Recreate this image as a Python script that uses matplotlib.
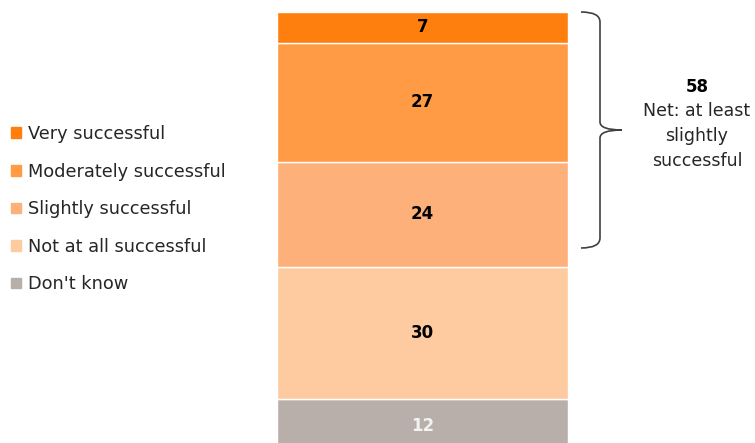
import matplotlib.pyplot as plt
import matplotlib.patches as mpatches
from matplotlib.path import Path

categories = ['Very successful', 'Moderately successful', 'Slightly successful',
              'Not at all successful', "Don't know"]
values = [7, 27, 24, 30, 12]
colors = ['#FF7F0E', '#FF9B45', '#FDB07A', '#FECBA0', '#B8AFAA']
net_value = 58
net_label = 'Net: at least\nslightly\nsuccessful'

plt.rcParams['font.family'] = 'DejaVu Sans'
fig = plt.figure(figsize=[7.55, 4.43], dpi=100)
# axes runs a bit past the bottom edge, like the cropped original
ax = fig.add_axes([0, -9/443, 1, 440/443])
ax.set_xlim(0, 1)
ax.set_ylim(0, 100)
ax.axis('off')

bar_x = 422.5/755
bar_w = 291/755
# stack from the bottom: Don't know first
bottom = 0
for cat, v, c in zip(categories[::-1], values[::-1], colors[::-1]):
    ax.bar(bar_x, v, width=bar_w, bottom=bottom, color=c, edgecolor='white', linewidth=1)
    tc = '#F2F2F2' if cat == "Don't know" else 'black'
    ax.text(bar_x, bottom + v/2, str(v), ha='center', va='center',
            fontsize=12, fontweight='bold', color=tc)
    bottom += v

handles = [mpatches.Patch(color=c, label=l) for l, c in zip(categories, colors)]
leg = fig.legend(handles=handles, loc='upper left', bbox_to_anchor=(0.005, 1-118/443),
                 frameon=False, fontsize=12.8, handlelength=0.55, handleheight=0.55,
                 handletextpad=0.4, labelspacing=1.1, borderaxespad=0)
for t in leg.get_texts():
    t.set_color('#262626')

# curly bracket, in figure pixels
H = 443.0
def px(x, y):
    return (x/755, (H - y)/H)
verts = [px(581, 12), px(600, 12), px(600, 22),
         px(600, 122),
         px(600, 130), px(622, 130),
         px(600, 130), px(600, 138),
         px(600, 238),
         px(600, 248), px(581, 248)]
codes = [Path.MOVETO, Path.CURVE3, Path.CURVE3,
         Path.LINETO,
         Path.CURVE3, Path.CURVE3,
         Path.CURVE3, Path.CURVE3,
         Path.LINETO,
         Path.CURVE3, Path.CURVE3]
fig.add_artist(mpatches.PathPatch(Path(verts, codes), fill=False, edgecolor='#404040',
                                  linewidth=1.2, transform=fig.transFigure))

fig.text(697/755, 1-87/H, str(net_value), ha='center', va='center',
         fontsize=12, fontweight='bold', color='black')
fig.text(697/755, 1-102/H, net_label, ha='center', va='top',
         fontsize=12.5, color='#262626', linespacing=1.5)

fig.savefig('out.png', dpi=100)
